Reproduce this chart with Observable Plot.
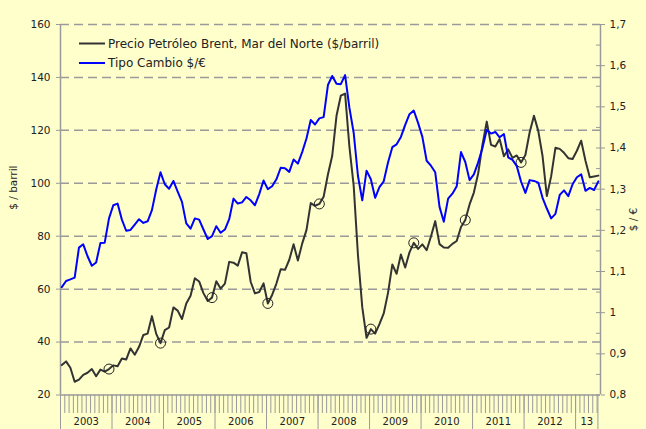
<!DOCTYPE html>
<html><head><meta charset="utf-8">
<script src="https://cdn.jsdelivr.net/npm/d3@7"></script>
<script src="https://cdn.jsdelivr.net/npm/@observablehq/plot@0.6"></script>
<style>
html,body{margin:0;padding:0;background:#FFFFCC;}
#chart{width:646px;height:429px;overflow:hidden;}
</style>
</head><body><div id="chart"></div>
<script>
// Monthly data, Jan 2003 – Jun 2013
const startYear = 2003;
const brent = [
  31.3, 32.7, 30.3, 25.0, 25.8, 27.6, 28.4, 29.8, 27.1, 29.6, 28.8, 29.8,
  31.2, 30.9, 33.8, 33.4, 37.6, 35.2, 38.2, 42.7, 43.2, 49.8, 43.1, 39.6,
  44.5, 45.5, 53.1, 51.9, 48.7, 54.6, 57.5, 64.1, 62.9, 58.5, 55.5, 56.8,
  63.0, 60.2, 62.1, 70.3, 70.0, 68.9, 73.9, 73.6, 62.8, 58.4, 58.9, 62.2,
  54.6, 57.8, 62.1, 67.5, 67.3, 71.1, 77.0, 70.8, 77.2, 82.3, 92.5, 91.5,
  92.2, 94.9, 103.3, 110.4, 125.5, 133.1, 133.9, 113.9, 99.1, 72.8, 53.2, 41.6,
  44.9, 43.2, 46.8, 50.8, 58.6, 69.3, 65.8, 73.1, 68.2, 73.9, 77.5, 75.2,
  76.9, 74.7, 79.9, 85.7, 77.0, 75.7, 75.6, 77.1, 78.2, 83.5, 86.1, 92.0,
  96.5, 103.7, 114.6, 123.3, 114.5, 113.9, 116.7, 110.2, 112.8, 109.6, 110.5, 107.9,
  110.7, 119.3, 125.5, 119.8, 110.3, 95.2, 102.6, 113.4, 113.0, 111.5, 109.5, 109.2,
  112.3, 116.1, 108.5, 102.3, 102.6, 102.9
];
const tipoCambio = [
  1.062, 1.077, 1.081, 1.085, 1.158, 1.166, 1.137, 1.114, 1.122, 1.169, 1.170, 1.229,
  1.261, 1.265, 1.226, 1.199, 1.201, 1.214, 1.227, 1.218, 1.222, 1.249, 1.299, 1.341,
  1.312, 1.301, 1.320, 1.294, 1.269, 1.217, 1.204, 1.229, 1.226, 1.202, 1.179, 1.186,
  1.210, 1.194, 1.202, 1.227, 1.277, 1.265, 1.268, 1.281, 1.273, 1.261, 1.288, 1.321,
  1.300, 1.307, 1.324, 1.352, 1.351, 1.342, 1.372, 1.362, 1.390, 1.423, 1.468, 1.457,
  1.472, 1.475, 1.553, 1.575, 1.556, 1.555, 1.577, 1.498, 1.437, 1.332, 1.273, 1.345,
  1.324, 1.279, 1.305, 1.319, 1.365, 1.402, 1.409, 1.427, 1.456, 1.482, 1.491, 1.461,
  1.427, 1.369, 1.357, 1.341, 1.257, 1.221, 1.277, 1.289, 1.307, 1.390, 1.366, 1.322,
  1.336, 1.365, 1.400, 1.444, 1.435, 1.439, 1.426, 1.434, 1.377, 1.371, 1.356, 1.318,
  1.291, 1.322, 1.320, 1.316, 1.279, 1.253, 1.229, 1.240, 1.286, 1.297, 1.283, 1.312,
  1.329, 1.336, 1.296, 1.303, 1.298, 1.319
];
const circleMonths = [11, 23, 35, 48, 60, 72, 82, 94, 107];
const yearLabels = ["2003","2004","2005","2006","2007","2008","2009","2010","2011","2012","13"];
const leftTicks = [20, 40, 60, 80, 100, 120, 140, 160];
const gridTicks = [40, 60, 80, 100, 120, 140, 160];
const rightTicks = [0.8, 0.9, 1.0, 1.1, 1.2, 1.3, 1.4, 1.5, 1.6, 1.7];
const rightMinor = [0.85, 0.95, 1.05, 1.15, 1.25, 1.35, 1.45, 1.55, 1.65];
const legendLabels = ["Precio Petróleo Brent, Mar del Norte ($/barril)", "Tipo Cambio $/€"];
const axisTitles = ["$ / barril", "$ / €"];

// helpers
const rMin = 0.8, rMax = 1.7, lMin = 20, lMax = 160;
const toLeft = r => lMin + (r - rMin) / (rMax - rMin) * (lMax - lMin);
const fromLeft = v => Math.round((rMin + (v - lMin) / (lMax - lMin) * (rMax - rMin)) * 10) / 10;
const fmtRate = r => { const s = r.toFixed(1).replace(".", ","); return s.endsWith(",0") ? s.slice(0, -2) : s; };

const data = brent.map((b, i) => ({i, brent: b, rate: toLeft(tipoCambio[i])}));
const circles = circleMonths.map(i => ({i, brent: brent[i]}));

const W = 646, H = 429, mL = 60, mR = 46, mT = 24, mB = 34.5;
const xMin = -0.3, xMax = 125.5;
const pxX = (W - mL - mR) / (xMax - xMin);
const pxY = (H - mT - mB) / (lMax - lMin);
const yAt = px => lMin - (px - (H - mB)) / pxY; // svg px below axis -> y value

const yearBounds = yearLabels.map((_, k) => 12 * k - 0.3).concat([124.9]);
const yearCenters = yearLabels.map((l, k) => ({label: l, x: (yearBounds[k] + yearBounds[k + 1]) / 2}));
const monthTicks = d3.range(0, 126).map(m => m - 0.3);

const grey = "#9a9a9a";
const font = "DejaVu Sans, Verdana, sans-serif";

const svg = Plot.plot({
  width: W, height: H,
  marginLeft: mL, marginRight: mR, marginTop: mT, marginBottom: mB,
  style: {background: "#FFFFCC", fontFamily: font, fontSize: "11px", color: "#222", overflow: "visible"},
  x: {domain: [xMin, xMax], axis: null},
  y: {domain: [lMin, lMax], axis: null},
  marks: [
    Plot.ruleY(gridTicks, {stroke: grey, strokeWidth: 1.5, strokeDasharray: "9,5"}),
    Plot.ruleX(monthTicks, {y1: lMin, y2: yAt(413), stroke: grey, strokeWidth: 1}),
    Plot.ruleX(yearBounds, {y1: lMin, y2: yAt(H), stroke: grey, strokeWidth: 1}),
    Plot.ruleX([xMin], {y1: lMin, y2: lMax, stroke: grey, strokeWidth: 1.5}),
    Plot.ruleX([xMax], {y1: lMin, y2: lMax, stroke: grey, strokeWidth: 1.5}),
    Plot.ruleY([lMin], {stroke: grey, strokeWidth: 1.5}),
    Plot.axisY(leftTicks, {anchor: "left", tickSize: 4, tickPadding: 6, label: null, stroke: grey, fontSize: 10.5, fill: "#222"}),
    Plot.axisY(rightTicks.map(toLeft), {anchor: "right", tickSize: 4, tickPadding: 5, label: null, stroke: grey, fontSize: 10.5, fill: "#222", tickFormat: v => fmtRate(fromLeft(v))}),
    Plot.ruleY(rightTicks.map(toLeft), {x1: xMax - 4 / pxX, x2: xMax, stroke: grey, strokeWidth: 1}),
    Plot.ruleY(rightMinor.map(toLeft), {x1: xMax - 4 / pxX, x2: xMax, stroke: grey, strokeWidth: 1}),
    Plot.text(yearCenters, {x: "x", y: yAt(417), text: "label", lineAnchor: "top", fontSize: 10, fill: "#222"}),
    Plot.line(data, {x: "i", y: "brent", stroke: "#333", strokeWidth: 2}),
    Plot.dot(circles, {x: "i", y: "brent", r: 5, stroke: "#222", fill: "none", strokeWidth: 1}),
    Plot.line(data, {x: "i", y: "rate", stroke: "#0000ff", strokeWidth: 2}),
    Plot.text([axisTitles[0]], {frameAnchor: "left", dx: -47, rotate: -90, fontSize: 10.5, fill: "#222"}),
    Plot.text([axisTitles[1]], {frameAnchor: "right", dx: 33, dy: -2, rotate: -90, fontSize: 10.5, fill: "#222"})
  ]
});

// legend inside plot area (top-left)
const g = d3.select(svg).append("g").attr("font-family", font).attr("font-size", 12)
  .attr("fill", "#222").attr("text-anchor", "start");
const legendColors = ["#333", "#0000ff"];
legendLabels.forEach((lab, k) => {
  const yy = 43.5 + k * 19.5;
  g.append("line").attr("x1", 79).attr("x2", 105).attr("y1", yy).attr("y2", yy)
    .attr("stroke", legendColors[k]).attr("stroke-width", 2);
  g.append("text").attr("x", 108).attr("y", yy).attr("dy", "0.35em").text(lab);
});

document.getElementById("chart").appendChild(svg);
</script>
</body></html>
